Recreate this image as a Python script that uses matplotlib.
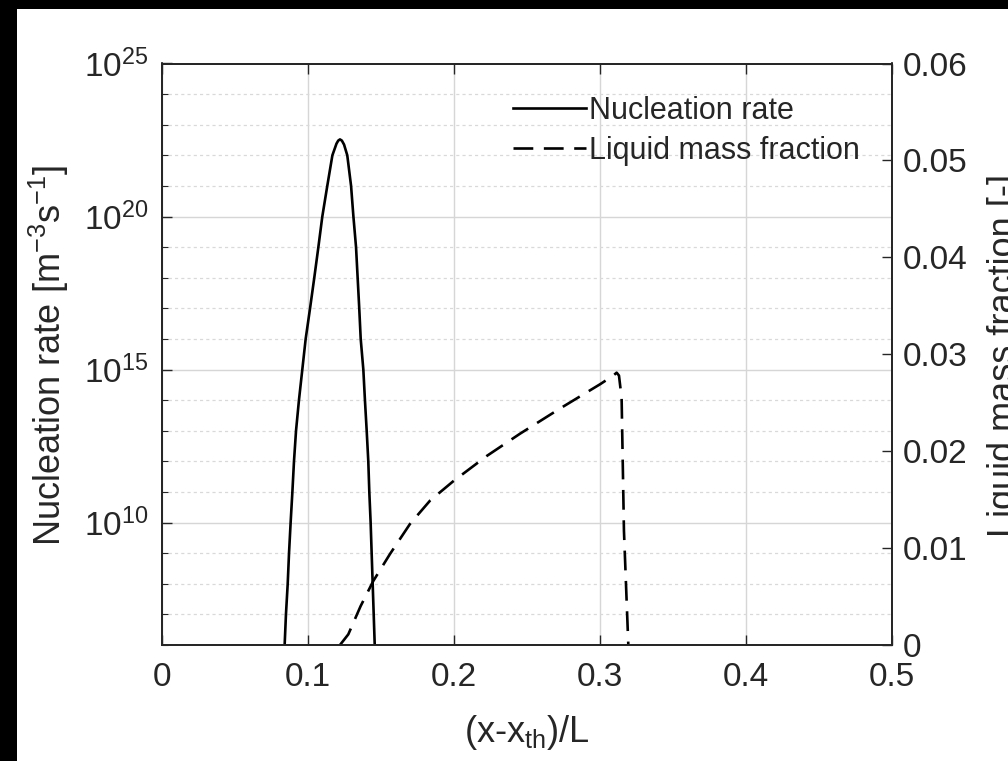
import numpy as np
import matplotlib
matplotlib.use("Agg")
import matplotlib.pyplot as plt
from matplotlib.patches import Rectangle

plt.rcParams['font.family'] = ['Liberation Sans', 'DejaVu Sans']
plt.rcParams['mathtext.fontset'] = 'custom'
plt.rcParams['mathtext.rm'] = 'Liberation Sans'
plt.rcParams['mathtext.it'] = 'Liberation Sans:italic'
plt.rcParams['mathtext.bf'] = 'Liberation Sans:bold'

# ---- data ----
nuc_x = [0.0840, 0.0849, 0.0861, 0.0870, 0.0881, 0.0893, 0.0904, 0.0918, 0.0938,
         0.0961, 0.0984, 0.1014, 0.1043, 0.1071, 0.1098, 0.1132, 0.1167, 0.1195,
         0.1207, 0.1219, 0.1232, 0.1247, 0.1269, 0.1295, 0.1311, 0.1329, 0.1340,
         0.1351, 0.1361, 0.1379, 0.1390, 0.1402, 0.1413, 0.1420, 0.1429, 0.1436,
         0.1443, 0.1450, 0.1457]
nuc_log10 = [6.0, 7.0, 8.0, 9.0, 10.0, 11.0, 12.0, 13.0, 14.0,
             15.0, 16.0, 17.0, 18.0, 19.0, 20.0, 21.0, 22.0, 22.38,
             22.48, 22.52, 22.48, 22.35, 22.0, 21.0, 20.0, 19.0, 18.0,
             17.0, 16.0, 15.0, 14.0, 13.0, 12.0, 11.0, 10.0, 9.0,
             8.0, 7.0, 6.0]

liq_x = [0.1219, 0.1276, 0.1360, 0.1447, 0.1562, 0.1699, 0.1836, 0.1995, 0.2224,
         0.2452, 0.2726, 0.3000, 0.3091, 0.3114, 0.3130, 0.3148, 0.3164, 0.3194]
liq_f = [0.0000, 0.0011, 0.0040, 0.0066, 0.0094, 0.0125, 0.0149, 0.0169, 0.0195,
         0.0218, 0.0244, 0.0269, 0.0278, 0.0281, 0.0278, 0.0255, 0.0118, 0.0000]

x_ticks = [0, 0.1, 0.2, 0.3, 0.4, 0.5]
x_ticklabels = ['0', '0.1', '0.2', '0.3', '0.4', '0.5']
left_exps = [10, 15, 20, 25]
right_ticks = [0, 0.01, 0.02, 0.03, 0.04, 0.05, 0.06]
right_ticklabels = ['0', '0.01', '0.02', '0.03', '0.04', '0.05', '0.06']

nuc_y = [10.0 ** e for e in nuc_log10]

# ---- figure ----
W, H = 1008, 761
fig = plt.figure(figsize=(W / 100, H / 100), dpi=100, facecolor='white')
fig.patches.append(Rectangle((0, 0), 17 / W, 1, transform=fig.transFigure,
                             facecolor='black', edgecolor='none', zorder=0))
fig.patches.append(Rectangle((0, 1 - 9 / H), 1, 9 / H, transform=fig.transFigure,
                             facecolor='black', edgecolor='none', zorder=0))

ax_l, ax_r, ax_t, ax_b = 162, 892, 63.5, 645
ax = fig.add_axes([ax_l / W, 1 - ax_b / H, (ax_r - ax_l) / W, (ax_b - ax_t) / H])
txt = '#262626'
fs = 24
fs_lab = 26
fs_leg = 22

ax.set_yscale('log')
ax.set_xlim(0, 0.5)
ax.set_ylim(1e6, 1e25)
ax.set_xticks(x_ticks)
ax.set_xticklabels(x_ticklabels)
ax.set_yticks([10.0 ** e for e in left_exps])
ax.set_yticklabels([r'$\mathregular{10^{%d}}$' % e for e in left_exps])
ax.set_yticks([10.0 ** e for e in range(6, 26) if e % 5 != 0], minor=True)
ax.yaxis.set_minor_formatter(matplotlib.ticker.NullFormatter())
ax.tick_params(axis='both', which='major', direction='in', length=7, width=1,
               labelsize=fs, colors=txt)
ax.tick_params(axis='x', pad=12, top=True)
ax.tick_params(axis='y', pad=10)
ax.tick_params(axis='y', which='minor', direction='in', length=4, width=0.8, colors=txt)
ax.grid(True, which='major', color='#d6d6d6', linewidth=1.0, linestyle='-')
ax.grid(True, which='minor', axis='y', color='#d9d9d9', linewidth=0.9, linestyle=(0, (2.5, 2.5)))
ax.set_axisbelow(True)
for s in ax.spines.values():
    s.set_color(txt)
    s.set_linewidth(1.3)

l1, = ax.plot(nuc_x, nuc_y, color='black', linewidth=1.9, solid_joinstyle='round')

ax2 = ax.twinx()
ax2.set_ylim(0, 0.06)
ax2.set_yticks(right_ticks)
ax2.set_yticklabels(right_ticklabels)
ax2.tick_params(axis='y', direction='in', length=7, width=1, labelsize=fs, colors=txt, pad=8)
for s in ax2.spines.values():
    s.set_color(txt)
    s.set_linewidth(1.3)
l2, = ax2.plot(liq_x, liq_f, color='black', linewidth=1.9, linestyle=(0, (7.5, 4)))

fig.text(527 / W, 1 - 713 / H, r'(x-x$_{\mathregular{th}}$)/L', ha='center', va='top',
         fontsize=fs_lab, color=txt)
fig.text(27 / W, 1 - 355 / H, r'Nucleation rate [m$^{\mathregular{-3}}$s$^{\mathregular{-1}}$]',
         rotation=90, ha='left', va='center', fontsize=fs_lab, color=txt)
fig.text(987 / W, 1 - 355 / H, 'Liquid mass fraction [-]',
         rotation=90, ha='left', va='center', fontsize=fs_lab, color=txt)

leg = ax2.legend([l1, l2], ['Nucleation rate', 'Liquid mass fraction'],
                 loc='upper left',
                 bbox_to_anchor=((513 - ax_l) / (ax_r - ax_l), 1 - (96 - ax_t) / (ax_b - ax_t)),
                 frameon=False, fontsize=fs_leg, handlelength=2.4, handletextpad=0.1,
                 labelspacing=0.33, borderpad=0, borderaxespad=0)
for t in leg.get_texts():
    t.set_color(txt)

fig.savefig('out.png', dpi=100, facecolor='white')
